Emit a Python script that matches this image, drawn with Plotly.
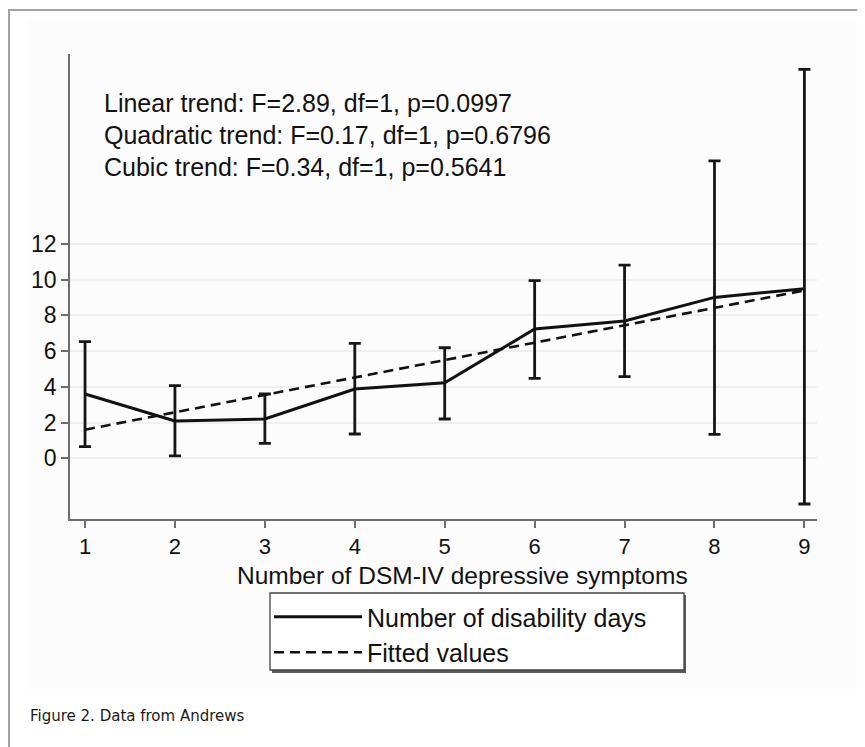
import plotly.graph_objects as go

# ---- data ----
symptoms = [1, 2, 3, 4, 5, 6, 7, 8, 9]
disability_days = [3.6, 2.09, 2.2, 3.88, 4.23, 7.24, 7.69, 9.01, 9.5]
ci_upper = [6.53, 4.07, 3.6, 6.44, 6.19, 9.95, 10.82, 16.65, 21.78]
ci_lower = [0.65, 0.13, 0.84, 1.36, 2.2, 4.48, 4.57, 1.34, -2.56]
fitted_values = [1.6, 2.57, 3.55, 4.53, 5.5, 6.47, 7.45, 8.43, 9.4]
y_ticks = [0, 2, 4, 6, 8, 10, 12]
x_ticks = [1, 2, 3, 4, 5, 6, 7, 8, 9]
trend_lines = [
    "Linear trend: F=2.89, df=1, p=0.0997",
    "Quadratic trend: F=0.17, df=1, p=0.6796",
    "Cubic trend: F=0.34, df=1, p=0.5641",
]
series_names = ["Number of disability days", "Fitted values"]
x_title = "Number of DSM-IV depressive symptoms"
caption = "Figure 2. Data from Andrews"

FONT = "Liberation Sans, Arial, Helvetica, sans-serif"
TXT = "#111111"
OFF = 8                      # default page (body) margin
W, H = 865 - OFF, 747 - OFF
# plot area in page pixels: x 70..817, y 54..519
ML, MR = 70 - OFF, 865 - 817
MT, MB = 54 - OFF, 747 - 519
PW, PH = 817 - 70, 519 - 54


def px(xp):  # page pixel -> paper x
    return (xp - 70) / PW


def py(yp):  # page pixel -> paper y
    return (519 - yp) / PH


err_plus = [u - m for u, m in zip(ci_upper, disability_days)]
err_minus = [m - l for m, l in zip(disability_days, ci_lower)]

fig = go.Figure()
fig.add_trace(go.Scatter(
    x=symptoms, y=disability_days, mode="markers",
    marker=dict(size=1, color="rgba(0,0,0,0)"),
    error_y=dict(type="data", symmetric=False, array=err_plus,
                 arrayminus=err_minus, color="#161616", thickness=2.8, width=6),
    showlegend=False, hoverinfo="skip",
))
fig.add_trace(go.Scatter(
    x=symptoms, y=disability_days, mode="lines", name=series_names[0],
    line=dict(color="#111111", width=3),
))
fig.add_trace(go.Scatter(
    x=symptoms, y=fitted_values, mode="lines", name=series_names[1],
    line=dict(color="#111111", width=2.6, dash="10px,6px"),
))

shapes = [
    # outer frame
    dict(type="rect", xref="paper", yref="paper", x0=px(9), x1=px(900),
         y0=py(800), y1=py(10), line=dict(color="#a3a3a3", width=2),
         fillcolor="white", layer="below"),
    # light graph region
    dict(type="rect", xref="paper", yref="paper", x0=px(28), x1=px(857),
         y0=py(690), y1=py(20), line=dict(width=0),
         fillcolor="#fcfcfc", layer="below"),
    # legend shadow and box
    dict(type="rect", xref="paper", yref="paper", x0=px(272), x1=px(686),
         y0=py(673), y1=py(595), line=dict(width=0),
         fillcolor="#5a5a5a", layer="above"),
    dict(type="rect", xref="paper", yref="paper", x0=px(270), x1=px(684),
         y0=py(670), y1=py(593), line=dict(color="#444444", width=1.3),
         fillcolor="white", layer="above"),
]

annotations = []
for i, t in enumerate(trend_lines):
    annotations.append(dict(
        text=t, xref="paper", yref="paper", x=px(102), y=py(103 + 32 * i),
        xanchor="left", yanchor="middle", showarrow=False,
        font=dict(family=FONT, size=25, color=TXT),
    ))
annotations.append(dict(
    text=x_title, xref="paper", yref="paper", x=px(462), y=py(575),
    xanchor="center", yanchor="middle", showarrow=False,
    font=dict(family=FONT, size=24.5, color=TXT),
))
annotations.append(dict(
    text=caption, xref="paper", yref="paper", x=px(28), y=py(716),
    xanchor="left", yanchor="middle", showarrow=False,
    font=dict(family="DejaVu Sans, sans-serif", size=15, color="#1a1a1a"),
))

fig.update_layout(
    width=W, height=H,
    margin=dict(l=ML, r=MR, t=MT, b=MB),
    paper_bgcolor="white", plot_bgcolor="#fcfcfc",
    font=dict(family=FONT, size=22, color=TXT),
    shapes=shapes, annotations=annotations,
    legend=dict(
        x=px(269), y=py(594), xanchor="left", yanchor="top",
        bgcolor="rgba(0,0,0,0)", borderwidth=0,
        font=dict(family=FONT, size=25, color=TXT),
        itemwidth=88, tracegroupgap=0,
    ),
    xaxis=dict(
        range=[0.833, 9.14], tickvals=x_ticks, ticktext=[str(v) for v in x_ticks],
        showgrid=False, zeroline=False, showline=True, linecolor="#6e6e6e",
        linewidth=1.8, ticks="outside", ticklen=7, tickcolor="#6e6e6e", tickwidth=1.8,
        tickfont=dict(family=FONT, size=22, color=TXT),
    ),
    yaxis=dict(
        range=[-3.40, 22.64], tickvals=y_ticks, ticktext=[str(v) for v in y_ticks],
        showgrid=True, gridcolor="#efefef", gridwidth=1.8, zeroline=False,
        showline=True, linecolor="#6e6e6e", linewidth=1.8, ticks="outside",
        ticklen=7, tickcolor="#6e6e6e", tickwidth=1.8,
        tickfont=dict(family=FONT, size=23, color=TXT),
    ),
)

fig.write_html("out.html")
